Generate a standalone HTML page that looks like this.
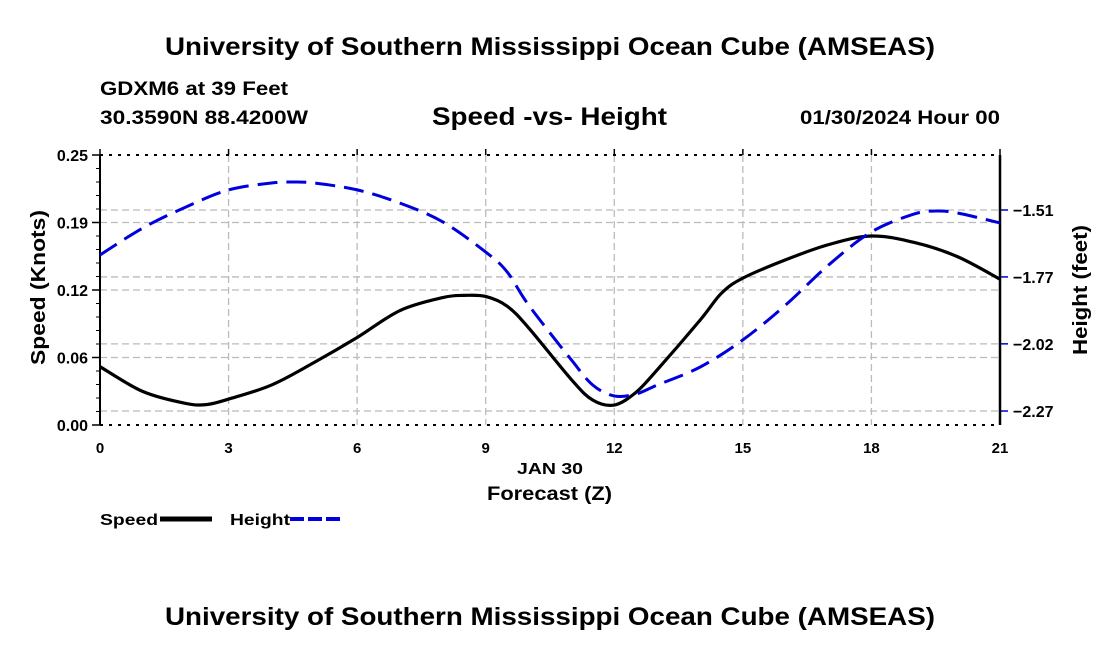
<!DOCTYPE html>
<html><head><meta charset="utf-8"><style>
body{margin:0;background:#fff;}
svg text{font-family:"Liberation Sans",Arial,sans-serif;font-weight:bold;fill:#000;}
</style></head><body>
<svg id="c" width="1100" height="650" xmlns="http://www.w3.org/2000/svg">
<text x="165" y="55" font-size="25" textLength="770" lengthAdjust="spacingAndGlyphs">University of Southern Mississippi Ocean Cube (AMSEAS)</text>
<text x="100" y="95" font-size="19" textLength="188" lengthAdjust="spacingAndGlyphs">GDXM6 at 39 Feet</text>
<text x="100" y="124" font-size="19" textLength="208" lengthAdjust="spacingAndGlyphs">30.3590N  88.4200W</text>
<text x="432" y="125" font-size="25" textLength="235" lengthAdjust="spacingAndGlyphs">Speed -vs- Height</text>
<text x="800" y="124" font-size="19" textLength="200" lengthAdjust="spacingAndGlyphs">01/30/2024 Hour 00</text>
<text x="165" y="625" font-size="25" textLength="770" lengthAdjust="spacingAndGlyphs">University of Southern Mississippi Ocean Cube (AMSEAS)</text>
<g id="grid"></g><g id="axes"></g><g id="series"></g>
<text x="517" y="474" font-size="16" textLength="66" lengthAdjust="spacingAndGlyphs">JAN 30</text>
<text x="487" y="500" font-size="19" textLength="125" lengthAdjust="spacingAndGlyphs">Forecast (Z)</text>
<text transform="translate(45,365) rotate(-90)" font-size="20" textLength="155" lengthAdjust="spacingAndGlyphs">Speed (Knots)</text>
<text transform="translate(1087,355) rotate(-90)" font-size="20" textLength="130" lengthAdjust="spacingAndGlyphs">Height (feet)</text>
<g>
<text x="100" y="525" font-size="16" textLength="58" lengthAdjust="spacingAndGlyphs">Speed</text>
<line x1="160" y1="519" x2="212" y2="519" stroke="#000" stroke-width="5"/>
<text x="230" y="525" font-size="16" textLength="60" lengthAdjust="spacingAndGlyphs">Height</text>
<line x1="290" y1="519" x2="342" y2="519" stroke="#0000dd" stroke-width="4" stroke-dasharray="14,4"/>
</g>
</svg>
<script>
const hours=[0,1,2,2.5,3,4,5,6,7,8,8.5,9,9.5,10,11,11.5,12,12.5,13,14,14.5,15,16,17,18,19,20,21];
const speed=[0.054,0.031,0.020,0.019,0.024,0.037,0.058,0.081,0.106,0.118,0.120,0.119,0.110,0.090,0.042,0.023,0.0185,0.030,0.051,0.097,0.122,0.136,0.153,0.167,0.175,0.169,0.156,0.135];
const hHours=[0,1,2,3,4,4.5,5,6,7,8,9,9.5,10,11,11.5,12,12.5,13,14,15,16,17,18,19,19.5,20,21];
const height=[-1.680,-1.578,-1.499,-1.434,-1.408,-1.404,-1.408,-1.434,-1.484,-1.555,-1.669,-1.744,-1.869,-2.077,-2.172,-2.213,-2.206,-2.172,-2.104,-2.001,-1.869,-1.718,-1.593,-1.525,-1.514,-1.521,-1.559];
const xTicks=[0,3,6,9,12,15,18,21];
const speedTicks=[0,0.0625,0.125,0.1875,0.25];
const speedLabels=["0.00","0.06","0.12","0.19","0.25"];
const heightTicks=[-1.51,-1.763,-2.016,-2.27];
const heightLabels=["\u22121.51","\u22121.77","\u22122.02","\u22122.27"];
const L=100,R=1000,T=155,B=425;
const X=h=>L+(h/21)*(R-L);
const YS=v=>B-(v/0.25)*(B-T);
const YH=v=>210+(-1.51-v)/0.2533*67;
const NS="http://www.w3.org/2000/svg";
function mk(p,tag,a){const e=document.createElementNS(NS,tag);for(const k in a)e.setAttribute(k,a[k]);p.appendChild(e);return e;}
function smooth(xs,ys){let d='M'+xs[0]+','+ys[0];for(let i=0;i<xs.length-1;i++){const x0=xs[Math.max(i-1,0)],y0=ys[Math.max(i-1,0)],x1=xs[i],y1=ys[i],x2=xs[i+1],y2=ys[i+1],x3=xs[Math.min(i+2,xs.length-1)],y3=ys[Math.min(i+2,xs.length-1)];d+=' C'+(x1+(x2-x0)/6)+','+(y1+(y2-y0)/6)+' '+(x2-(x3-x1)/6)+','+(y2-(y3-y1)/6)+' '+x2+','+y2;}return d;}
const grid=document.getElementById('grid'),axes=document.getElementById('axes'),ser=document.getElementById('series');
xTicks.forEach((t,i)=>{
 if(t>0&&t<21){const g=mk(grid,'line',{x1:X(t),x2:X(t),y1:T,y2:B,stroke:'#bbb','stroke-width':1.3,'stroke-dasharray':'7,4'});
 
 }
 const tx=mk(axes,'text',{x:X(t),y:453,'font-size':15,'text-anchor':'middle'});tx.textContent=t;
 
 
 mk(axes,'line',{x1:X(t),x2:X(t),y1:T-6,y2:T,stroke:'#000','stroke-width':1.5});
});
speedTicks.forEach((t,i)=>{
 if(i>0&&i<4){const g=mk(grid,'line',{x1:L,x2:R,y1:YS(t),y2:YS(t),stroke:'#bbb','stroke-width':1.3,'stroke-dasharray':'7,4'});
 
 }
 mk(axes,'line',{x1:L-8,x2:L,y1:YS(t),y2:YS(t),stroke:'#000','stroke-width':1.5});
 const tx=mk(axes,'text',{x:L-12,y:YS(t)+6,'font-size':16,'text-anchor':'end'});tx.textContent=speedLabels[i];
 
 
});
for(let v=0;v<=0.25;v+=0.25/20){mk(axes,'line',{x1:L-4,x2:L,y1:YS(v),y2:YS(v),stroke:'#000','stroke-width':1});}
heightTicks.forEach((t,i)=>{
 const g=mk(grid,'line',{x1:L,x2:R,y1:YH(t),y2:YH(t),stroke:'#bbb','stroke-width':1.3,'stroke-dasharray':'7,4'});
 
 
 mk(axes,'line',{x1:R,x2:R+8,y1:YH(t),y2:YH(t),stroke:'#0000cc','stroke-width':1.5});
 const tx=mk(axes,'text',{x:R+13,y:YH(t)+6,'font-size':16});tx.textContent=heightLabels[i];
 
 
});
mk(axes,'line',{x1:L,x2:L,y1:T,y2:B,stroke:'#000','stroke-width':2});
mk(axes,'line',{x1:R,x2:R,y1:T,y2:B,stroke:'#000','stroke-width':2.5});
mk(axes,'line',{x1:L,x2:R,y1:T,y2:T,stroke:'#000','stroke-width':2,'stroke-dasharray':'3,6'});
mk(axes,'line',{x1:L,x2:R,y1:B,y2:B,stroke:'#000','stroke-width':2,'stroke-dasharray':'3,6'});
const sp=mk(ser,'path',{d:smooth(hours.map(X),speed.map(YS)),fill:'none',stroke:'#000','stroke-width':3.2,'stroke-linejoin':'round'});


const hl=mk(ser,'path',{d:smooth(hHours.map(X),height.map(YH)),fill:'none',stroke:'#0000dd','stroke-width':3,'stroke-dasharray':'20,9','stroke-linejoin':'round'});


</script>
</body></html>
